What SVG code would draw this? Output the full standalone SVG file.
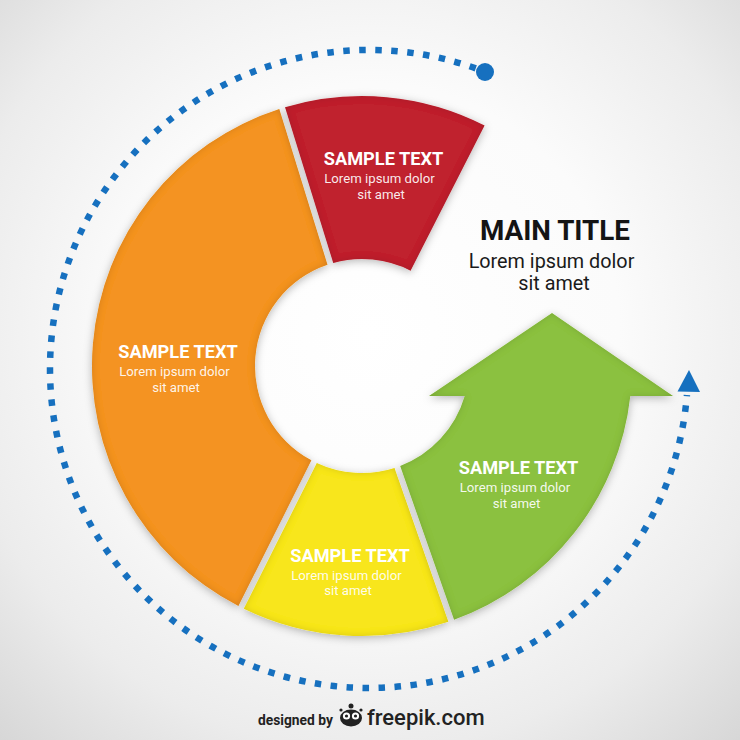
<svg xmlns="http://www.w3.org/2000/svg" width="740" height="740" viewBox="0 0 740 740">
  <defs>
    <radialGradient id="bg" cx="50%" cy="45%" r="75%">
      <stop offset="0" stop-color="#ffffff"/>
      <stop offset="0.45" stop-color="#fbfbfb"/>
      <stop offset="0.75" stop-color="#ececec"/>
      <stop offset="1" stop-color="#d6d6d6"/>
    </radialGradient>
    <filter id="seg" x="-15%" y="-15%" width="130%" height="130%">
      <feGaussianBlur in="SourceAlpha" stdDeviation="3.5" result="blur"/>
      <feComposite in="SourceAlpha" in2="blur" operator="arithmetic" k2="1" k3="-1" result="edge"/>
      <feFlood flood-color="#000" flood-opacity="0.28"/>
      <feComposite in2="edge" operator="in" result="inner"/>
      <feGaussianBlur in="SourceAlpha" stdDeviation="4" result="ds"/>
      <feOffset in="ds" dy="2" result="dso"/>
      <feFlood flood-color="#000" flood-opacity="0.28"/>
      <feComposite in2="dso" operator="in" result="drop"/>
      <feMerge>
        <feMergeNode in="drop"/>
        <feMergeNode in="SourceGraphic"/>
        <feMergeNode in="inner"/>
      </feMerge>
    </filter>
    <style>
      .st { font-family: Roboto, "Liberation Sans", sans-serif; font-weight: 700; font-size: 18.2px; fill: #ffffff; text-anchor: middle; }
      .sb { font-family: Roboto, "Liberation Sans", sans-serif; font-size: 13.2px; fill: #ffffff; fill-opacity: 0.92; text-anchor: middle; }
      .mt { font-family: Roboto, "Liberation Sans", sans-serif; font-weight: 700; font-size: 27.8px; fill: #141414; text-anchor: middle; }
      .mb { font-family: Roboto, "Liberation Sans", sans-serif; font-size: 19.8px; fill: #1a1a1a; text-anchor: middle; }
      .dash { fill: none; stroke: #1670bf; stroke-width: 6.5; stroke-dasharray: 6.5 9.5; }
      .blue { fill: #1670bf; }
    </style>
  </defs>

  <rect x="0" y="0" width="740" height="740" fill="url(#bg)"/>

  <g id="connectors">
    <path class="dash" d="M 485 71.8 A 319 319 0 1 0 686.94 394.97" stroke-dashoffset="-10"/>
    <circle class="blue" cx="485" cy="72" r="9"/>
    <polygon class="blue" points="689,370 677.5,391.5 700,392"/>
  </g>

  <g id="seg-orange">
    <path filter="url(#seg)" fill="#f49320" d="M 311.42 460.30 L 238.42 606.08 A 270 270 0 0 1 279.30 108.98 L 327.50 264.71 A 107 107 0 0 0 311.42 460.30 Z"/>
    <text class="st" x="178" y="358">SAMPLE TEXT</text>
    <text class="sb" x="174.5" y="376">Lorem ipsum dolor</text>
    <text class="sb" x="176" y="392">sit amet</text>
  </g>

  <g id="seg-red">
    <path filter="url(#seg)" fill="#c0232e" d="M 333.24 262.93 L 285.04 107.20 A 270 270 0 0 1 484.57 125.44 L 410.58 270.66 A 107 107 0 0 0 333.24 262.93 Z"/>
    <text class="st" x="383.5" y="165">SAMPLE TEXT</text>
    <text class="sb" x="379.5" y="183">Lorem ipsum dolor</text>
    <text class="sb" x="381" y="198.5">sit amet</text>
  </g>

  <g id="seg-yellow">
    <path filter="url(#seg)" fill="#f8e61f" d="M 394.52 467.94 L 448.40 621.80 A 270 270 0 0 1 243.78 608.76 L 316.78 462.98 A 107 107 0 0 0 394.52 467.94 Z"/>
    <text class="st" x="350" y="562">SAMPLE TEXT</text>
    <text class="sb" x="346.5" y="579.5">Lorem ipsum dolor</text>
    <text class="sb" x="348" y="595">sit amet</text>
  </g>

  <g id="seg-green">
    <path filter="url(#seg)" fill="#8bc13f" d="M 464.71 396 L 429 396 L 552 313 L 673 396 L 630.33 396 A 270 270 0 0 1 454.06 619.82 L 400.18 465.96 A 107 107 0 0 0 464.71 396 Z"/>
    <text class="st" x="518.5" y="474">SAMPLE TEXT</text>
    <text class="sb" x="515" y="492">Lorem ipsum dolor</text>
    <text class="sb" x="516.5" y="507.5">sit amet</text>
  </g>

  <g id="main-title">
    <text class="mt" x="555" y="240">MAIN TITLE</text>
    <text class="mb" x="551.5" y="268">Lorem ipsum dolor</text>
    <text class="mb" x="554" y="290">sit amet</text>
  </g>

  <g id="credit">
    <text x="258" y="725" font-family="Roboto, 'Liberation Sans', sans-serif" font-weight="700" font-size="13.8px" fill="#222222">designed by</text>
    <g fill="#222222">
      <ellipse cx="351" cy="718" rx="11" ry="8.5"/>
      <circle cx="351" cy="706" r="2.5"/>
      <circle cx="341" cy="710" r="1.6"/>
      <circle cx="361" cy="710" r="1.6"/>
    </g>
    <circle cx="346.5" cy="716" r="3.6" fill="#ffffff"/>
    <circle cx="355.5" cy="716" r="3.6" fill="#ffffff"/>
    <circle cx="346.5" cy="716" r="1.6" fill="#222222"/>
    <circle cx="355.5" cy="716" r="1.6" fill="#222222"/>
    <text x="367" y="725" font-family="Roboto, 'Liberation Sans', sans-serif" font-weight="500" font-size="22px" fill="#222222">freepik.com</text>
  </g>
</svg>
